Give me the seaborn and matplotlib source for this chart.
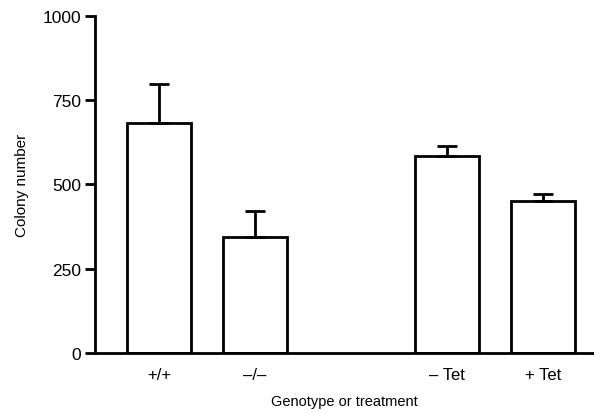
import pandas as pd
import matplotlib
matplotlib.use('Agg')
import matplotlib.pyplot as plt
import seaborn as sns

# Values
groups = ['+/+', '\u2013/\u2013', ' ', '\u2013 Tet', '+ Tet']
colonies = [683, 345, None, 585, 452]
err_top = [797, 420, None, 614, 471]
yticks = [0, 250, 500, 750, 1000]

df = pd.DataFrame({'group': groups, 'colonies': colonies})
df = df.dropna()

sns.set_style('white')
plt.rcParams['font.family'] = ['Liberation Sans', 'DejaVu Sans']
plt.rcParams['text.color'] = 'black'
plt.rcParams['axes.labelcolor'] = 'black'
plt.rcParams['xtick.color'] = 'black'
plt.rcParams['ytick.color'] = 'black'

fig = plt.figure(figsize=(5.94, 4.14), dpi=100)
ax = fig.add_axes([0.16, 0.145, 0.84, 0.814])

sns.barplot(data=df, x='group', y='colonies', order=groups, width=0.667,
            color='white', edgecolor='black', linewidth=2, ax=ax)

# one-sided error bars
for i, g in enumerate(groups):
    if colonies[i] is None:
        continue
    ax.errorbar(i, colonies[i], yerr=[[0], [err_top[i] - colonies[i]]],
                fmt='none', ecolor='black', elinewidth=2, capsize=7.5,
                capthick=2, zorder=1)

ax.set_ylim(0, 1000)
ax.set_xlim(-0.667, 4.53)
ax.set_yticks(yticks)
ax.set_yticklabels([str(t) for t in yticks], fontsize=12.5)
ax.tick_params(axis='y', left=True, direction='out', length=7, width=2,
               colors='black', pad=3)
ax.tick_params(axis='x', bottom=False, length=0, labelsize=12, pad=10,
               colors='black')

sns.despine(ax=ax)
ax.spines['left'].set_linewidth(2)
ax.spines['bottom'].set_linewidth(2)
ax.spines['left'].set_color('black')
ax.spines['bottom'].set_color('black')

ax.set_xlabel('Genotype or treatment', fontsize=10.5, labelpad=9, color='black')
ax.set_ylabel('Colony number', fontsize=11, labelpad=10, color='black')

fig.savefig('out.png', dpi=100)
